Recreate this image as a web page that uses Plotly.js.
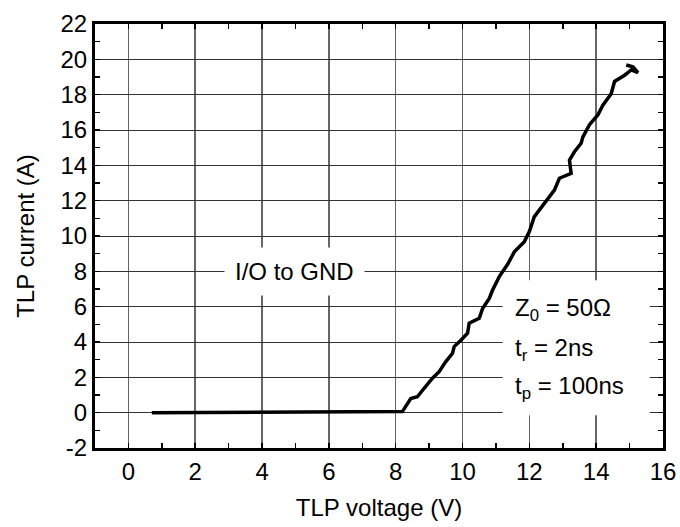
<!DOCTYPE html>
<html>
<head>
<meta charset="utf-8">
<script src="https://cdn.plot.ly/plotly-3.0.1.min.js"></script>
<style>body{margin:0;padding:0;background:#fff;} #chart{width:680px;height:527px;}</style>
</head>
<body>
<div id="chart"></div>
<script>
const voltage = [0.7, 8.2, 8.45, 8.65, 8.85, 9.1, 9.3, 9.5, 9.7, 9.75, 9.95, 10.15, 10.2, 10.5, 10.6, 10.8, 10.9, 11.1, 11.35, 11.55, 11.85, 12.0, 12.15, 12.45, 12.75, 12.9, 13.25, 13.2, 13.35, 13.55, 13.6, 13.8, 14.05, 14.2, 14.45, 14.55, 14.85, 15.05, 15.25, 15.1, 14.9];
const current = [0, 0.06, 0.8, 0.9, 1.38, 1.95, 2.32, 2.89, 3.36, 3.74, 4.1, 4.5, 5.06, 5.34, 5.9, 6.47, 6.94, 7.7, 8.4, 9.1, 9.68, 10.25, 11.1, 11.85, 12.6, 13.27, 13.55, 14.3, 14.77, 15.25, 15.6, 16.3, 16.85, 17.4, 18.05, 18.75, 19.1, 19.4, 19.25, 19.58, 19.68];
const xTicks = [0, 2, 4, 6, 8, 10, 12, 14, 16];
const yTicks = [-2, 0, 2, 4, 6, 8, 10, 12, 14, 16, 18, 20, 22];
const yTickText = ["-2", "0", "2", "4", "6", "8", "10", "12", "14", "16", "18", "20", "22"];
const curveLabel = "I/O to GND";
const condLines = ["Z<sub>0</sub> = 50Ω", "t<sub>r</sub> = 2ns", "t<sub>p</sub> = 100ns"];
const condY = [5.85, 3.6, 1.45];

const font = {family: "Liberation Sans, Arial, sans-serif", size: 24, color: "#000"};

const trace = {
  x: voltage, y: current, type: "scatter", mode: "lines",
  line: {color: "#000", width: 3.5}, hoverinfo: "skip"
};

const axisCommon = {
  showline: true, linecolor: "#000", linewidth: 3, mirror: "ticks",
  ticks: "inside", ticklen: 5, tickwidth: 1.5, tickcolor: "#000",
  tickfont: font, showgrid: true, zeroline: false,
  minor: {dtick: 1, ticks: "inside", ticklen: 5, tickwidth: 1.5, tickcolor: "#000", showgrid: false}
};

const annotations = [{
  x: 4.97, y: 8, xref: "x", yref: "y", text: curveLabel, showarrow: false,
  font: font, bgcolor: "#fff", borderpad: 10, xanchor: "center", yanchor: "middle"
}];
condLines.forEach((t, i) => annotations.push({
  x: 11.5, y: condY[i], xref: "x", yref: "y", text: t, showarrow: false,
  font: font, xanchor: "left", yanchor: "middle"
}));

const layout = {
  width: 680, height: 527,
  margin: {l: 95, r: 17, t: 24, b: 79},
  paper_bgcolor: "#fff", plot_bgcolor: "#fff",
  showlegend: false,
  xaxis: Object.assign({}, axisCommon, {
    range: [-1, 16], tickvals: xTicks, gridcolor: "#666", gridwidth: 1.5,
    title: {text: "TLP voltage (V)", font: font, standoff: 16}
  }),
  yaxis: Object.assign({}, axisCommon, {
    range: [-2, 22], tickvals: yTicks, ticktext: yTickText, gridcolor: "#333", gridwidth: 1,
    title: {text: "TLP current (A)", font: font, standoff: 20}
  }),
  shapes: [{
    type: "rect", xref: "x", yref: "y", x0: 11.2, x1: 15.6, y0: -0.15, y1: 7.5,
    fillcolor: "#fff", line: {width: 0}, layer: "between"
  }],
  annotations: annotations
};

Plotly.newPlot("chart", [trace], layout, {displayModeBar: false, staticPlot: true});
</script>
</body>
</html>
